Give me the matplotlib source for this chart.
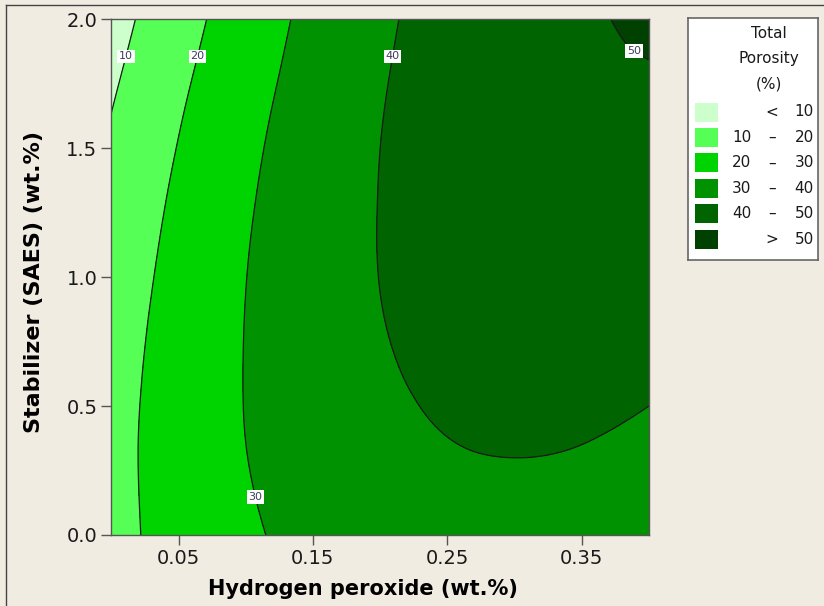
import numpy as np
import matplotlib
matplotlib.use("Agg")
import matplotlib.pyplot as plt
import matplotlib.tri as mtri
from matplotlib.patches import Rectangle
from matplotlib.lines import Line2D

# grid of total porosity (%)
h2o2 = [0.0, 0.05, 0.10, 0.15, 0.20, 0.25, 0.30, 0.35, 0.40]   # Hydrogen peroxide (wt.%)
saes = [0.0, 0.25, 0.50, 0.75, 1.00, 1.25, 1.50, 1.75, 2.00]   # Stabilizer (wt.%)
porosity = [
    [17.1, 23.5, 28.7, 32.6, 35.2, 36.6, 36.7, 35.5, 32.9],
    [17.2, 24.0, 29.7, 34.0, 37.1, 39.0, 39.5, 38.8, 36.7],
    [16.8, 24.1, 30.2, 35.0, 38.5, 40.8, 41.8, 41.6, 40.0],
    [15.9, 23.7, 30.2, 35.5, 39.5, 42.3, 43.7, 43.9, 42.8],
    [14.7, 22.9, 29.9, 35.6, 40.1, 43.3, 45.2, 45.8, 45.2],
    [13.1, 21.8, 29.2, 35.3, 40.2, 43.9, 46.2, 47.3, 47.1],
    [11.2, 20.3, 28.1, 34.7, 40.0, 44.1, 46.9, 48.4, 48.6],
    [8.9, 18.4, 26.6, 33.6, 39.4, 43.9, 47.1, 49.1, 49.7],
    [6.4, 16.2, 24.9, 32.3, 38.5, 43.4, 47.0, 49.4, 50.5],
]
contour_levels = [10, 20, 30, 40, 50]
legend_lo = ['', '10', '20', '30', '40', '']
legend_mid = ['<', '\u2013', '\u2013', '\u2013', '\u2013', '>']
legend_hi = ['10', '20', '30', '40', '50', '50']

BG = '#f0ece2'
colors = ['#ccffcc', '#55ff55', '#00d400', '#009200', '#006400', '#004000']

fig = plt.figure(figsize=(8.24, 6.06), dpi=100, facecolor=BG)
ax = fig.add_axes([111.3/824, 1-535/606, (649-111.3)/824, (535-19.3)/606])

GX, GY = np.meshgrid(h2o2, saes)
Z = np.array(porosity).ravel()
tri = mtri.Triangulation(GX.ravel(), GY.ravel())
refiner = mtri.UniformTriRefiner(tri)
interp = mtri.CubicTriInterpolator(tri, Z)
tri_f, z_f = refiner.refine_field(Z, triinterpolator=interp, subdiv=4)

ax.tricontourf(tri_f, z_f, levels=[-100] + contour_levels + [200], colors=colors)
cs = ax.tricontour(tri_f, z_f, levels=contour_levels, colors='#1a1a1a', linewidths=0.9)

#labels on the lines, same spots as the original
lbls = ax.clabel(cs, inline=False, fmt='%d', fontsize=8,
                 manual=[(0.0102, 1.857), (0.0632, 1.857), (0.208, 1.857), (0.385, 1.85), (0.1072, 0.147)])
for t in lbls:
    t.set_rotation(0)
    t.set_color('#3c3c5a')
    t.set_bbox(dict(facecolor='white', edgecolor='none', pad=1.3))

ax.set_xlim(0, 0.4)
ax.set_ylim(0, 2.0)
ax.set_xticks([0.05, 0.15, 0.25, 0.35])
ax.set_xticklabels(['0.05', '0.15', '0.25', '0.35'])
ax.set_yticks([0.0, 0.5, 1.0, 1.5, 2.0])
ax.set_yticklabels(['0.0', '0.5', '1.0', '1.5', '2.0'])
ax.tick_params(direction='out', length=7, width=1, color='#555555', labelsize=14, labelcolor='#1a1a1a', pad=3)
for s in ax.spines.values():
    s.set_color('#555555')
    s.set_linewidth(1)
ax.set_xlabel('Hydrogen peroxide (wt.%)', fontsize=15, fontweight='bold')
ax.set_ylabel('Stabilizer (SAES) (wt.%)', fontsize=16, fontweight='bold')
ax.xaxis.set_label_coords(0.468, -0.085)
ax.yaxis.set_label_coords(-0.125, 0.49)

# legend box drawn by hand
lax = fig.add_axes([688/824, 1-260/606, (818-688)/824, (260-18)/606])
lax.set_xlim(688, 818)
lax.set_ylim(260, 18)
lax.set_xticks([])
lax.set_yticks([])
lax.set_facecolor('white')
for s in lax.spines.values():
    s.set_color('#666666')
    s.set_linewidth(1.2)
for i, line in enumerate(['Total', 'Porosity', '(%)']):
    lax.text(769, 33 + 25.5 * i, line, ha='center', va='center', fontsize=11, color='#1a1a1a')
for i in range(6):
    y = 112 + 25.4 * i
    lax.add_patch(Rectangle((695, y - 9.5), 23, 19, facecolor=colors[i], edgecolor='none'))
    lax.text(732, y, legend_lo[i], ha='left', va='center', fontsize=11, color='#1a1a1a')
    lax.text(772, y, legend_mid[i], ha='center', va='center', fontsize=11, color='#1a1a1a')
    lax.text(814, y, legend_hi[i], ha='right', va='center', fontsize=11, color='#1a1a1a')

fig.add_artist(Line2D([6/824, 6/824], [0, 1 - 5/606], color='#444444', lw=1))
fig.add_artist(Line2D([6/824, 1], [1 - 5/606, 1 - 5/606], color='#444444', lw=1))

fig.savefig('out.png', dpi=100, facecolor=BG)
